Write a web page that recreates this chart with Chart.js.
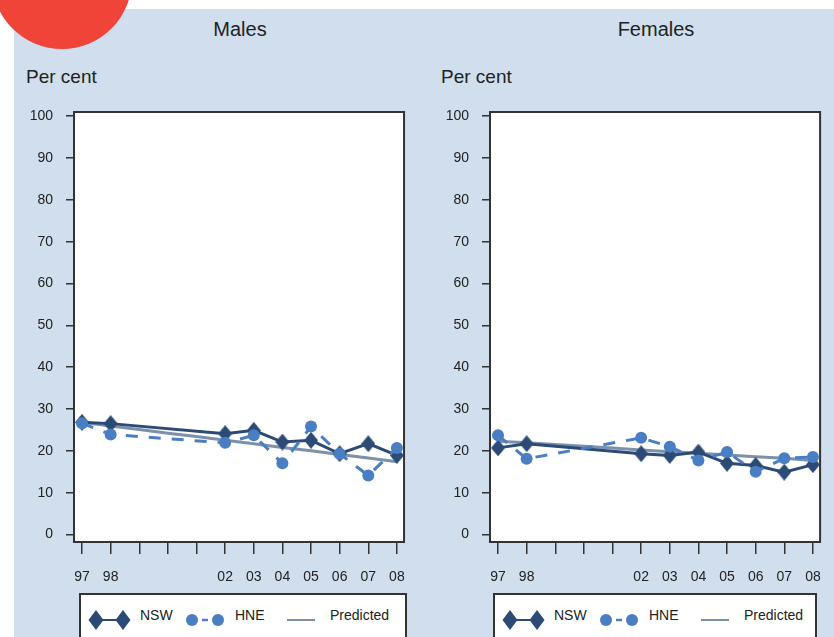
<!DOCTYPE html>
<html>
<head>
<meta charset="utf-8">
<script src="https://cdn.jsdelivr.net/npm/chart.js@4/dist/chart.umd.min.js"></script>
<style>
  html, body { margin: 0; padding: 0; background: #fff; width: 834px; height: 637px; overflow: hidden; position: relative;
    font-family: "Liberation Sans", Arial, sans-serif; color: #222; }
  #panel { position: absolute; left: 14px; top: 9px; width: 820px; height: 640px; background: #d0deed; }
  #dot { position: absolute; left: -8px; top: -91px; width: 140px; height: 140px; border-radius: 50%; background: #f14438; z-index: 5; }
  .title { position: absolute; top: 19px; font-size: 20px; line-height: 20px; white-space: nowrap; transform: translateX(-50%); }
  .ylab { position: absolute; top: 67px; font-size: 19px; line-height: 19px; white-space: nowrap; }
  canvas { position: absolute; top: 0; }
  .legend { position: absolute; top: 593px; height: 60px; background: #fff; border: 2px solid #333; box-sizing: border-box; }
  .legend svg { position: absolute; left: -2px; top: -2px; }
  .legend span { position: absolute; top: 13px; font-size: 14px; line-height: 14px; white-space: nowrap; }
</style>
</head>
<body>
<div id="panel"></div>
<div id="dot"></div>

<div class="title" style="left:240px">Males</div>
<div class="title" style="left:656px">Females</div>
<div class="ylab" style="left:26px">Per cent</div>
<div class="ylab" style="left:441px">Per cent</div>

<canvas id="males" width="420" height="592" style="left:0px"></canvas>
<canvas id="females" width="420" height="592" style="left:416px"></canvas>

<div class="legend" style="left:79px;width:328px" id="legM"></div>
<div class="legend" style="left:493px;width:324px" id="legF"></div>

<script>
// Survey years (two-digit) and which of them carry a tick label
const years = ['97', '98', '99', '00', '01', '02', '03', '04', '05', '06', '07', '08'];
const labelledYears = ['97', '98', '02', '03', '04', '05', '06', '07', '08'];
const yTicks = [0, 10, 20, 30, 40, 50, 60, 70, 80, 90, 100];

// Males, per cent
const malesNSW  = [26.8, 26.5, null, null, null, 24.1, 24.9, 22.1, 22.5, 19.3, 21.7, 18.9];
const malesHNE  = [26.6, 23.9, null, null, null, 21.9, 23.7, 17.0, 25.8, 19.3, 14.1, 20.7];
const malesPred = [26.8, 25.9, 25.1, 24.2, 23.4, 22.5, 21.7, 20.8, 20.0, 19.1, 18.3, 17.4];

// Females, per cent
const femalesNSW  = [20.7, 21.7, null, null, null, 19.3, 18.9, 19.7, 17.0, 16.5, 14.9, 16.7];
const femalesHNE  = [23.7, 18.1, null, null, null, 23.1, 21.0, 17.7, 19.7, 15.0, 18.2, 18.5];
const femalesPred = [22.3, 21.9, 21.5, 21.1, 20.7, 20.2, 19.8, 19.4, 19.0, 18.6, 18.2, 17.7];

const NSW_COL = '#2b4a76';
const HNE_COL = '#4a7ec2';
const PRED_COL = '#7b90ad';
const AXIS_COL = '#333';
const FONT = '"Liberation Sans", Arial, sans-serif';

// Slightly tall diamond marker for NSW
function diamond(w, h, color) {
  const c = document.createElement('canvas');
  c.width = w; c.height = h;
  const g = c.getContext('2d');
  g.fillStyle = color;
  g.beginPath();
  g.moveTo(w / 2, 0); g.lineTo(w, h / 2); g.lineTo(w / 2, h); g.lineTo(0, h / 2);
  g.closePath(); g.fill();
  return c;
}
const nswMarker = diamond(14, 17, NSW_COL);

const toPoints = vals => vals.map((v, i) => ({ x: i, y: v }));

// White plotting area with a dark frame
const framePlugin = {
  id: 'frame',
  beforeDraw(chart) {
    const { ctx, chartArea: a } = chart;
    ctx.save();
    ctx.fillStyle = '#fff';
    ctx.fillRect(a.left, a.top, a.right - a.left, a.bottom - a.top);
    ctx.restore();
  },
  afterDraw(chart) {
    const { ctx, chartArea: a } = chart;
    ctx.save();
    ctx.strokeStyle = AXIS_COL;
    ctx.lineWidth = 2;
    ctx.strokeRect(a.left, a.top, a.right - a.left, a.bottom - a.top);
    ctx.restore();
  }
};

function makeChart(id, nsw, hne, pred, padRight) {
  return new Chart(document.getElementById(id), {
    type: 'line',
    data: {
      datasets: [
        { label: 'HNE', data: toPoints(hne), borderColor: HNE_COL, borderWidth: 3, borderDash: [12, 11],
          pointStyle: 'circle', pointRadius: 6, pointBackgroundColor: HNE_COL, pointBorderWidth: 0,
          spanGaps: true, order: 0 },
        { label: 'NSW', data: toPoints(nsw), borderColor: NSW_COL, borderWidth: 3,
          pointStyle: nswMarker, pointRadius: 8, spanGaps: true, order: 1 },
        { label: 'Predicted', data: toPoints(pred), borderColor: PRED_COL, borderWidth: 3,
          pointRadius: 0, spanGaps: true, order: 2 }
      ]
    },
    options: {
      responsive: false,
      animation: false,
      devicePixelRatio: 1,
      layout: { padding: { top: 112, right: padRight, left: 0, bottom: 0 } },
      plugins: { legend: { display: false }, tooltip: { enabled: false } },
      scales: {
        x: {
          type: 'linear', min: -0.28, max: 11.25,
          afterBuildTicks: s => { s.ticks = years.map((_, i) => ({ value: i })); },
          afterFit: s => { s.height = 50; },
          ticks: {
            autoSkip: false, maxRotation: 0, padding: 15, color: '#222',
            font: { family: FONT, size: 14 },
            callback: (v, i) => labelledYears.includes(years[i]) ? years[i] : ''
          },
          grid: { drawOnChartArea: false, drawTicks: true, tickLength: 12, color: AXIS_COL, lineWidth: 1.5 },
          border: { display: false }
        },
        y: {
          min: -1.8, max: 101,
          afterBuildTicks: s => { s.ticks = yTicks.map(v => ({ value: v })); },
          afterFit: s => { s.width = 74; },
          ticks: { padding: 13, color: '#222', font: { family: FONT, size: 14 } },
          grid: { drawOnChartArea: false, drawTicks: true, tickLength: 8, color: AXIS_COL, lineWidth: 1.5 },
          border: { display: false }
        }
      }
    },
    plugins: [framePlugin]
  });
}

makeChart('males', malesNSW, malesHNE, malesPred, 15);
makeChart('females', femalesNSW, femalesHNE, femalesPred, 13);

// Legend: diamond–line–diamond, circle–dash–circle, plain line
function buildLegend(id, width) {
  const el = document.getElementById(id);
  const d = (cx) => `<polygon points="${cx},17 ${cx + 7.5},27 ${cx},37 ${cx - 7.5},27" fill="${NSW_COL}"/>`;
  el.innerHTML =
    `<svg width="${width}" height="60" xmlns="http://www.w3.org/2000/svg">
      <line x1="17" y1="27" x2="44" y2="27" stroke="${NSW_COL}" stroke-width="2"/>
      ${d(17)}${d(44)}
      <line x1="123" y1="27" x2="129" y2="27" stroke="${HNE_COL}" stroke-width="2.5"/>
      <circle cx="113" cy="27" r="6" fill="${HNE_COL}"/>
      <circle cx="139" cy="27" r="6" fill="${HNE_COL}"/>
      <line x1="208" y1="27" x2="236" y2="27" stroke="${PRED_COL}" stroke-width="2"/>
    </svg>
    <span style="left:59px">NSW</span>
    <span style="left:154px">HNE</span>
    <span style="left:249px">Predicted</span>`;
}
buildLegend('legM', 328);
buildLegend('legF', 324);
</script>
</body>
</html>
